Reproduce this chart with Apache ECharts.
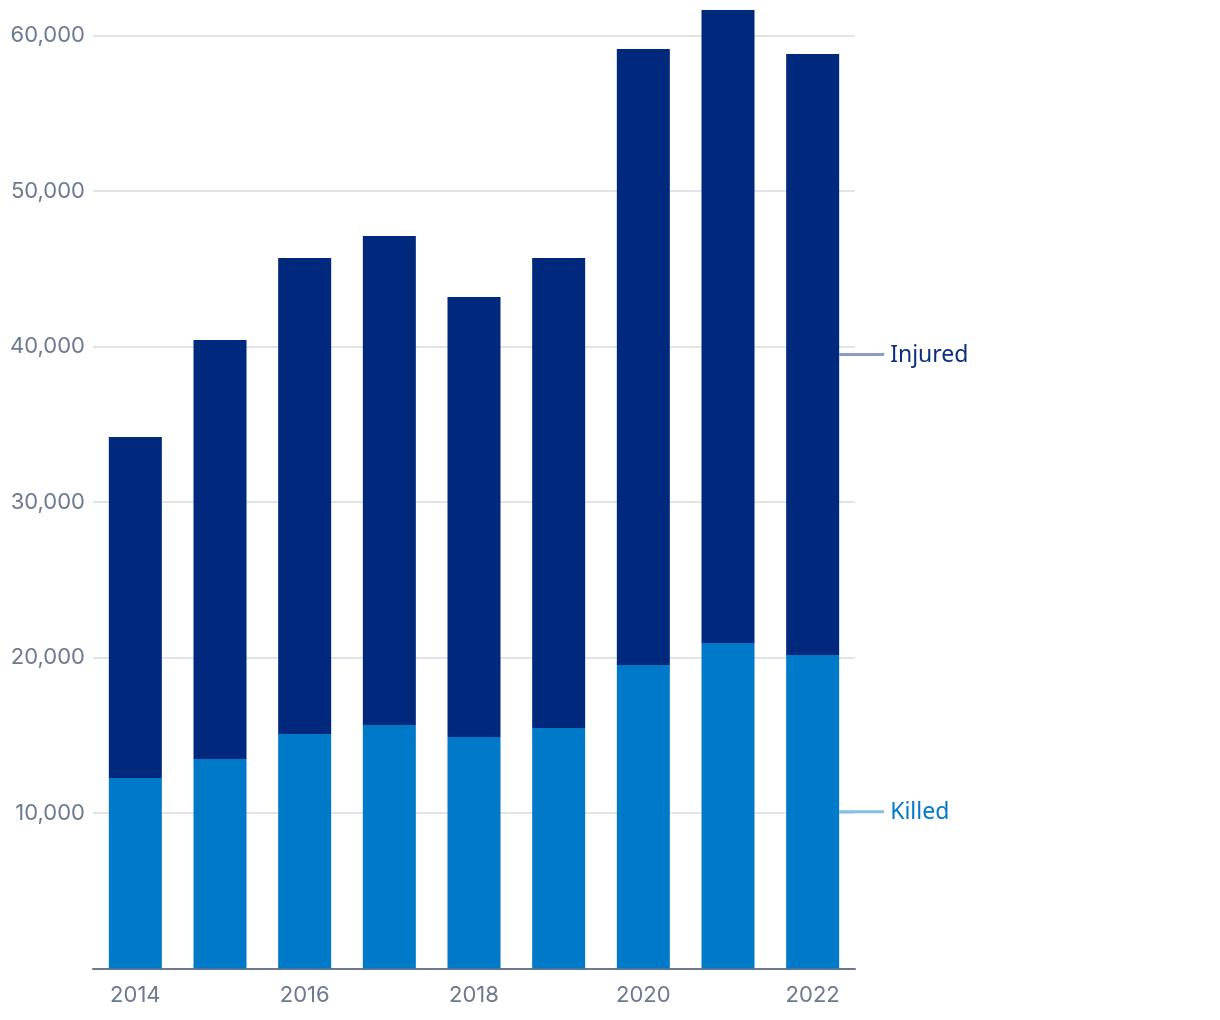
<!DOCTYPE html>
<html>
<head>
<meta charset="utf-8">
<script src="https://cdn.jsdelivr.net/npm/echarts@6/dist/echarts.min.js"></script>
<style>html,body{margin:0;padding:0;background:#fff}#c{width:1220px;height:1020px}</style>
</head>
<body>
<div id="c"></div>
<script>
const years = ['2014','2015','2016','2017','2018','2019','2020','2021','2022'];
const killed = [12250, 13470, 15080, 15660, 14890, 15470, 19520, 20930, 20160];
const injured = [21930, 26950, 30610, 31450, 28290, 30220, 39610, 40710, 38650];
const yTicks = [0, 10000, 20000, 30000, 40000, 50000, 60000];
const seriesNames = ['Killed', 'Injured'];

const chart = echarts.init(document.getElementById('c'));
const FONT = 'Inter';
function endLabel(name, lineColor, textColor) {
  return {
    show: true,
    position: 'right',
    distance: 0,
    formatter: function (p) { return p.dataIndex === years.length - 1 ? '{l|}{t|' + name + '}' : ''; },
    rich: {
      l: { width: 45, height: 3, backgroundColor: lineColor },
      t: { padding: [2, 0, 0, 6], color: textColor, fontSize: 23, fontFamily: 'Noto Sans' }
    }
  };
}
chart.setOption({
  animation: false,
  grid: { left: 93, right: 365, top: 35.5, bottom: 51.5 },
  xAxis: {
    type: 'category',
    data: years,
    axisLine: { lineStyle: { color: '#6b7a90', width: 2 } },
    axisTick: { show: false },
    axisLabel: { interval: 1, color: '#6b7a90', fontSize: 22, fontFamily: FONT, margin: 16 }
  },
  yAxis: {
    type: 'value',
    min: yTicks[0],
    max: yTicks[yTicks.length - 1],
    interval: yTicks[1] - yTicks[0],
    axisLine: { show: false },
    axisTick: { show: false },
    splitLine: { lineStyle: { color: '#d5dae3', width: 1.5 } },
    axisLabel: {
      color: '#6b7a90', fontSize: 22, fontFamily: FONT, margin: 8,
      formatter: function (v) { return v === 0 ? '' : v.toLocaleString('en-US'); }
    }
  },
  series: [
    {
      name: seriesNames[0], type: 'bar', stack: 't', data: killed, barWidth: 53, clip: false,
      itemStyle: { color: '#0079c8' },
      label: endLabel(seriesNames[0], '#85bfe6', '#0079c8')
    },
    {
      name: seriesNames[1], type: 'bar', stack: 't', data: injured, barWidth: 53, clip: false,
      itemStyle: { color: '#00287c' },
      label: endLabel(seriesNames[1], '#8a9cc6', '#0d2e80')
    }
  ]
});
</script>
</body>
</html>
